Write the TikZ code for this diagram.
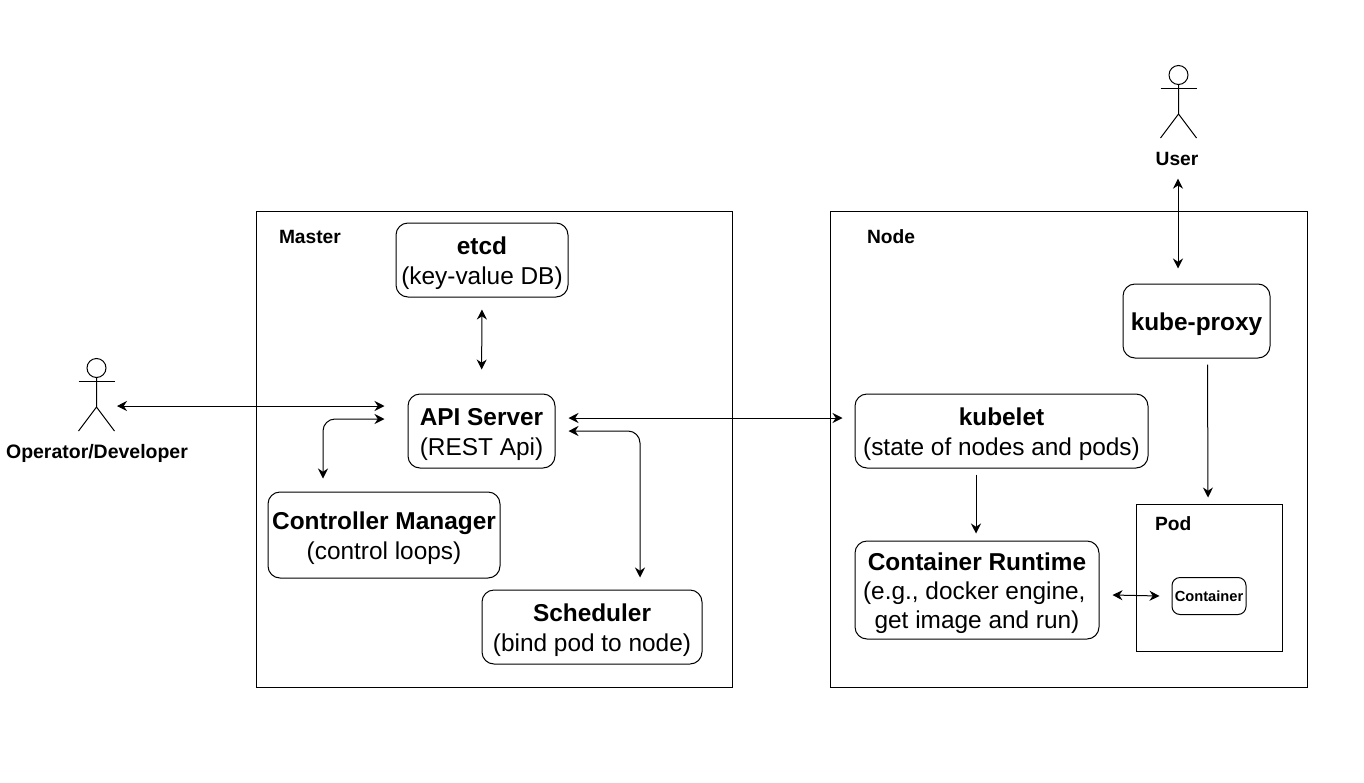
\documentclass[tikz,border=0pt]{standalone}
\usepackage{fontspec}
\setmainfont{Liberation Sans}
\usetikzlibrary{arrows.meta,calc}

\newcommand{\headline}[1]{\rule{0pt}{18pt}\textbf{#1}}

\tikzset{every picture/.style={line width=0.75pt}}
\tikzset{
  box/.style={draw,rounded corners=9pt,align=center,inner sep=0pt,font=\fontsize{18.3}{22}\selectfont},
  chip/.style={draw,rounded corners=6pt,inner sep=0pt,font=\fontsize{11}{13}\selectfont\bfseries},
  frame/.style={draw,inner sep=0pt},
  title/.style={font=\fontsize{14.4}{17}\selectfont\bfseries,inner sep=0pt},
  figure/.style={inner sep=0pt,minimum width=27pt,minimum height=55pt},
  link/.style={{Stealth[length=7.5pt,width=7.5pt]}-{Stealth[length=7.5pt,width=7.5pt]}},
  oneway/.style={-{Stealth[length=7.5pt,width=7.5pt]}},
  pics/actor/.style={code={
    \draw (0,26) circle [radius=9.5];
    \draw (-18,13) -- (18,13);
    \draw (0,16.5) -- (0,-13) (-18,-37) -- (0,-13) -- (18,-37);
  }}
}

\begin{document}
\begin{tikzpicture}[x=0.75pt,y=0.75pt,yscale=-1,xscale=1]
\useasboundingbox (0,0) rectangle (1364,782);

% Frames
\node [frame,minimum width=357pt,minimum height=357pt] (master) at (494,449) {};
\node [frame,minimum width=357.75pt,minimum height=357pt] (worker) at (1068.5,449) {};
\node [frame,minimum width=109.5pt,minimum height=110.25pt] (pod) at (1209,577.5) {};
\node [title,anchor=west] (masterlabel) at (278.5,237) {Master};
\node [title,anchor=west] (workerlabel) at (866.5,237) {Node};
\node [title,anchor=west] (podlabel) at (1154.5,524) {Pod};

% Master boxes
\node [box,minimum width=129pt,minimum height=55.5pt] (etcd) at (482,260) {\headline{etcd}\\(key-value DB)};
\node [box,minimum width=110.25pt,minimum height=55.5pt] (api) at (481.5,431) {\headline{API Server}\\(REST Api)};
\node [box,minimum width=174pt,minimum height=64.5pt] (controller) at (384,535) {\headline{Controller Manager}\\(control loops)};
\node [box,minimum width=165pt,minimum height=55.5pt] (scheduler) at (592,627) {\headline{Scheduler}\\(bind pod to node)};

% Node boxes
\node [box,minimum width=110.25pt,minimum height=55.5pt] (proxy) at (1196.5,321) {\headline{kube-proxy}};
\node [box,minimum width=219.75pt,minimum height=55.5pt] (kubelet) at (1001.5,431) {\headline{kubelet}\\(state of nodes and pods)};
\node [box,minimum width=183pt,minimum height=73.5pt] (runtime) at (977,590) {\headline{Container Runtime}\\(e.g., docker engine,\kern4pt\\get image and run)};
\node [chip,minimum width=55.5pt,minimum height=27.75pt] (container) at (1209,596) {Container};

% Actors
\node [figure] (operator) at (96.5,394) {};
\pic at (96.5,394) {actor};
\node [title,font=\fontsize{14.6}{17}\selectfont\bfseries] (operatorlabel) at (97,453.5) {Operator/Developer};
\node [figure] (user) at (1178.5,101) {};
\pic at (1178.5,101) {actor};
\node [title] (userlabel) at (1177,158.5) {User};

% Connector ends
\coordinate (opin) at ($(api.west)+(-23,-25)$);
\coordinate (ctrlin) at ($(api.west)+(-23,-12)$);
\coordinate (ctrlout) at ($(controller.north)+(-61,-13)$);
\coordinate (schedin) at ($(api.east)+(13,0)$);
\coordinate (schedout) at ($(scheduler.north)+(48,-12)$);
\coordinate (kubeletin) at ($(api.east)+(13,-13)$);
\coordinate (kubeletout) at ($(kubelet.west)+(-12,-13)$);
\coordinate (userout) at ($(userlabel.south)+(1,13)$);
\coordinate (proxyin) at ($(proxy.north)+(-18.5,-15)$);
\coordinate (proxyout) at ($(proxy.south)+(11,6)$);
\coordinate (podin) at ($(pod.north)+(-1,-6)$);
\coordinate (runtimeout) at ($(runtime.east)+(13,5)$);
\coordinate (containerin) at ($(container.west)+(-12,0)$);

% Connection
\draw [link,shorten <=12pt*0.75,shorten >=24pt*0.75] (etcd.south) -- (api.north);
\draw [link] ($(operator.east)+(2,12)$) -- (opin);
\draw [link,rounded corners=9pt] (ctrlin) -| (ctrlout);
\draw [link,rounded corners=9pt] (schedin) -| (schedout);
\draw [link] (kubeletin) -- (kubeletout);
\draw [link] (userout) -- (proxyin);
\draw [oneway] (proxyout) -- (podin);
\draw [oneway,shorten <=6pt*0.75,shorten >=7pt*0.75] (kubelet.south -| 976,0) -- (runtime.north -| 976,0);
\draw [link] (runtimeout) -- (containerin);

\end{tikzpicture}
\end{document}
